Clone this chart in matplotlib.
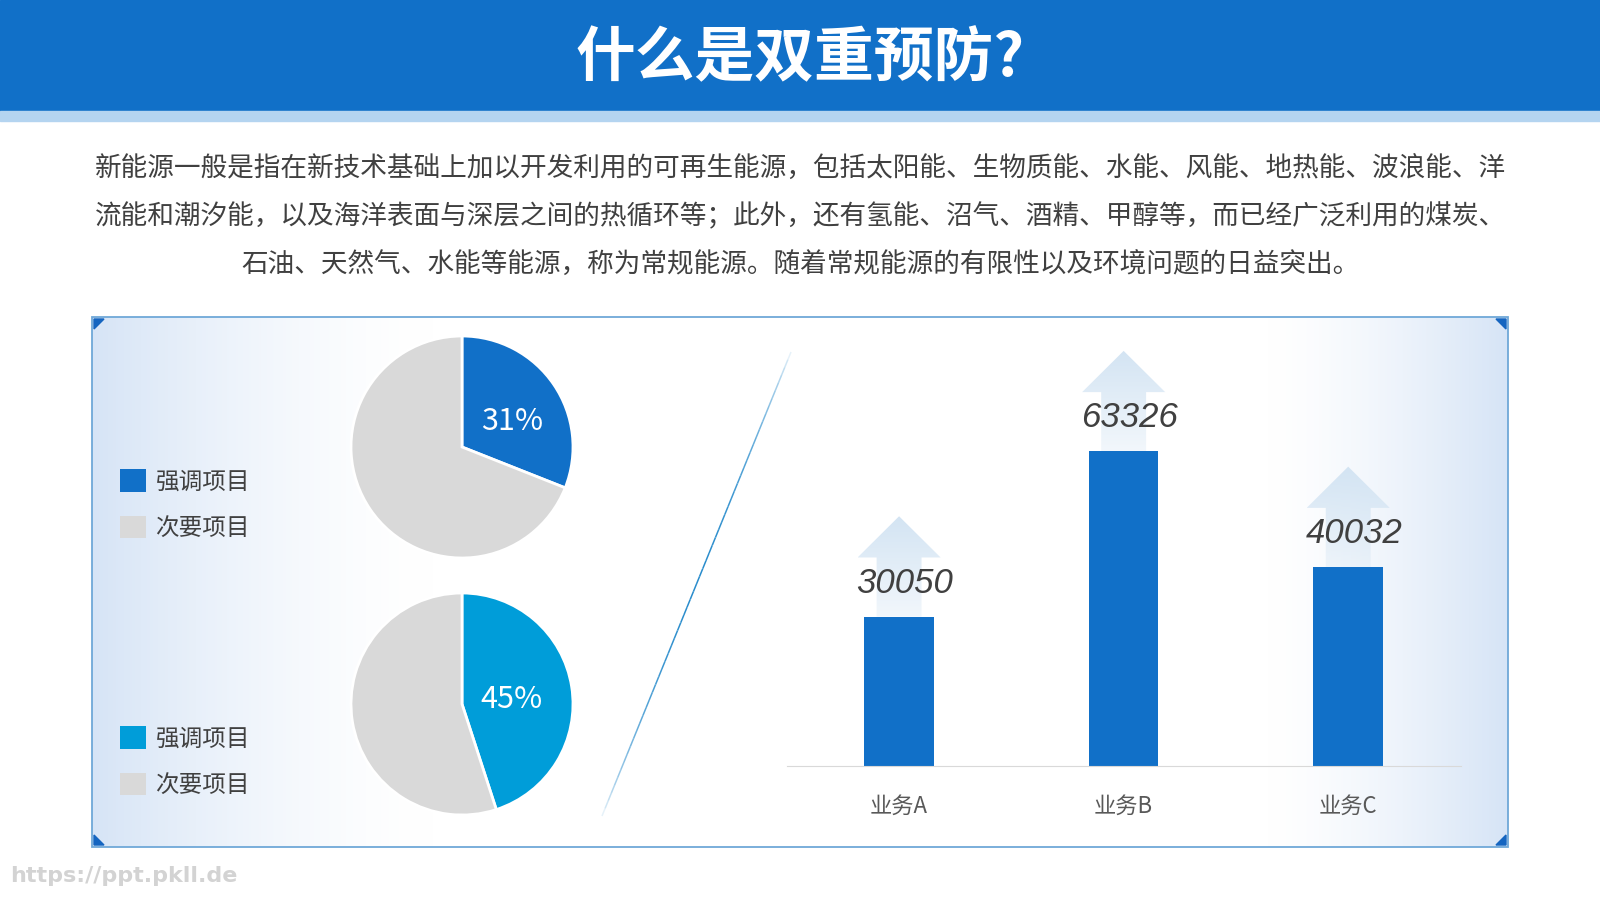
import numpy as np
import matplotlib.pyplot as plt
from matplotlib.patches import Polygon, Rectangle, Patch
from matplotlib.collections import LineCollection

plt.rcParams['font.family'] = ['Noto Sans CJK SC', 'DejaVu Sans']

# ---- data ----
title = '什么是双重预防?'
para_lines = [
    '新能源一般是指在新技术基础上加以开发利用的可再生能源，包括太阳能、生物质能、水能、风能、地热能、波浪能、洋',
    '流能和潮汐能，以及海洋表面与深层之间的热循环等；此外，还有氢能、沼气、酒精、甲醇等，而已经广泛利用的煤炭、',
    '石油、天然气、水能等能源，称为常规能源。随着常规能源的有限性以及环境问题的日益突出。',
]
pie_labels = ['强调项目', '次要项目']
pie1_values = [31, 69]
pie2_values = [45, 55]
pie1_colors = ['#1170C8', '#D9D9D9']
pie2_colors = ['#009DD9', '#D9D9D9']
categories = ['业务A', '业务B', '业务C']
values = [30050, 63326, 40032]
watermark = 'https://ppt.pkll.de'

W, H = 1600, 900
fig = plt.figure(figsize=(16, 9), dpi=100)
fig.patch.set_facecolor('white')

# background axes in pixel coords (y down)
bg = fig.add_axes([0, 0, 1, 1])
bg.set_xlim(0, W)
bg.set_ylim(H, 0)
bg.axis('off')


def px_axes(x0, y0, x1, y1):
    return fig.add_axes([x0 / W, 1 - y1 / H, (x1 - x0) / W, (y1 - y0) / H])


# header
bg.add_patch(Rectangle((0, 0), W, 111, color='#1170C8', zorder=1))
bg.add_patch(Rectangle((0, 111), W, 10, color='#B4D4F0', zorder=1))
bg.text(W / 2, 59, title, color='white', fontsize=43, fontweight='bold',
        ha='center', va='center', zorder=2)

# paragraph
for i, line in enumerate(para_lines):
    bg.text(800, 168 + i * 48.5, line, fontsize=19.2, color='#404040',
            ha='center', va='center')

# panel with soft gradient
px0, py0, px1, py1 = 92, 317, 1508, 847
xs = np.linspace(px0, px1, 600)
left = np.clip(1 - (xs - px0) / 340, 0, 1) ** 1.6
right = np.clip((xs - 1270) / (px1 - 1270), 0, 1) ** 1.4
t = np.maximum(left, right)
tint = np.array([0.84, 0.895, 0.965])
row = (1 - t)[:, None] * np.ones(3) + t[:, None] * tint
img = np.repeat(row[None, :, :], 50, axis=0)
bg.imshow(img, extent=(px0, px1, py1, py0), aspect='auto', zorder=0)
bg.set_xlim(0, W)
bg.set_ylim(H, 0)
bg.add_patch(Rectangle((px0, py0), px1 - px0, py1 - py0, fill=False,
                       edgecolor='#6FA8D8', lw=1.3, zorder=3))

s = 10
for cx, cy, dx, dy in [(px0 + 2, py0 + 2, 1, 1), (px1 - 2, py0 + 2, -1, 1),
                       (px0 + 2, py1 - 2, 1, -1), (px1 - 2, py1 - 2, -1, -1)]:
    bg.add_patch(Polygon([(cx, cy), (cx + dx * s, cy), (cx, cy + dy * s)],
                         color='#1565C0', zorder=4))

# diagonal divider
n = 60
lx = np.linspace(791, 602, n + 1)
ly = np.linspace(352, 816, n + 1)
segs = [[(lx[k], ly[k]), (lx[k + 1], ly[k + 1])] for k in range(n)]
tt = (np.arange(n) + 0.5) / n
alphas = np.sin(np.pi * tt) ** 0.6
cols = [(0.16, 0.55, 0.80, a) for a in alphas]
bg.add_collection(LineCollection(segs, colors=cols, linewidths=1.1, zorder=2))

# pies
for vals, colors, cy, pr, dy, ly0 in [(pie1_values, pie1_colors, 447, 0.55, -0.08, 469),
                                      (pie2_values, pie2_colors, 704, 0.45, -0.03, 726)]:
    ax = px_axes(462 - 111, cy - 111, 462 + 111, cy + 111)
    first = vals[0] * 100 / sum(vals)
    wedges, _, autotexts = ax.pie(vals, colors=colors, startangle=90, counterclock=False,
                                  autopct=lambda p, f=first: f'{p:.0f}%' if abs(p - f) < 1e-6 else '',
                                  pctdistance=pr, radius=1,
                                  wedgeprops=dict(edgecolor='white', linewidth=2),
                                  textprops=dict(color='white', fontsize=22))
    for at in autotexts:
        px, py = at.get_position()
        at.set_position((px, py + dy))
    ax.set_xlim(-1, 1)
    ax.set_ylim(-1, 1)
    ax.set_aspect('equal')
    ax.patch.set_alpha(0)
    handles = [Patch(facecolor=c, edgecolor='none') for c in colors]
    ax.legend(handles, pie_labels, loc='upper left',
              bbox_to_anchor=(120 / W, 1 - ly0 / H), bbox_transform=fig.transFigure,
              frameon=False, fontsize=17, labelcolor='#404040',
              handlelength=1.1, handleheight=1.1, labelspacing=0.95,
              handletextpad=0.4, borderpad=0, borderaxespad=0)

# bars
axb = px_axes(786.8, 330, 1460.5, 766)
x = np.arange(len(values))
ymax = 436 / 0.00497
shaft, head, head_h, arrow_len = 0.1, 0.185, 8300, 20200
grad = np.zeros((100, 1, 4))
grad[:, 0, :3] = [0.83, 0.895, 0.955]
grad[:, 0, 3] = np.linspace(1.0, 0.3, 100)
for i, v in zip(x, values):
    top = v + arrow_len
    pts = [(i - shaft, v), (i - shaft, top - head_h), (i - head, top - head_h), (i, top),
           (i + head, top - head_h), (i + shaft, top - head_h), (i + shaft, v)]
    poly = Polygon(pts, closed=True, facecolor='none', edgecolor='none')
    axb.add_patch(poly)
    im = axb.imshow(grad, extent=(i - head, i + head, v, top), origin='upper',
                    aspect='auto', zorder=1)
    im.set_clip_path(poly)

axb.bar(x, values, width=0.31, color='#1170C8', zorder=2)
for i, v in zip(x, values):
    axb.annotate(str(v), (i, v), xytext=(4, 24), textcoords='offset points',
                 ha='center', va='center', fontsize=25, style='italic',
                 family=['Liberation Sans', 'DejaVu Sans'],
                 color='#404040', zorder=3)

axb.set_xlim(-0.5, 2.5)
axb.set_ylim(0, ymax)
axb.set_xticks(x, categories)
axb.set_yticks([])
axb.tick_params(axis='x', length=0, pad=21, labelsize=16, labelcolor='#595959')
for sp in ['top', 'left', 'right']:
    axb.spines[sp].set_visible(False)
axb.spines['bottom'].set_color('#D9D9D9')
axb.patch.set_alpha(0)

# watermark
bg.text(10, 876, watermark, fontsize=16, color='#D3D3D3', fontweight='bold',
        family=['DejaVu Sans'], ha='left', va='center')

fig.savefig('out.png', dpi=100)
